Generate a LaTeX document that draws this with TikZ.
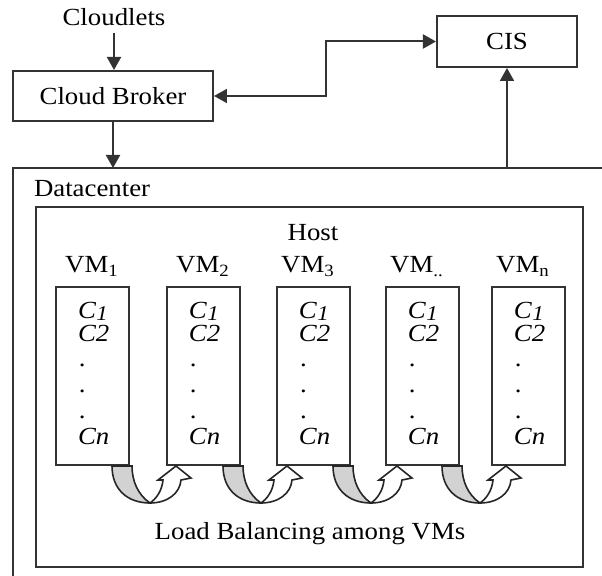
\documentclass[tikz,border=0pt]{standalone}
\usepackage{fontspec}
\setmainfont{Liberation Serif}[FakeStretch=1.09]
\usetikzlibrary{arrows.meta,calc}
\begin{document}
\begin{tikzpicture}[x=0.5pt,y=-0.5pt, line width=1pt,
  lncol/.style={draw=black!80},
  box/.style={lncol, rectangle, inner sep=0pt},
  txt/.style={inner sep=0pt, font=\fontsize{12.3}{14}\selectfont},
  arr/.style={lncol, -{Triangle[length=6.5pt,width=7pt]}},
  dblarr/.style={lncol, {Triangle[length=6.5pt,width=7pt]}-{Triangle[length=6.5pt,width=7pt]}},
  lbarrow/.pic={
    \filldraw[fill=gray!35, draw=black!85, line width=0.8pt]
      (-38,-37) .. controls (-38,-14) and (-23,0) .. (0,0)
      .. controls (-12,-8) and (-18,-22) .. (-18,-37) -- cycle;
    \filldraw[fill=white, draw=black!85, line width=0.8pt, line join=miter]
      (0,0) .. controls (18,0) and (30,-10) .. (31,-23) -- (41,-25) -- (26,-37)
      -- (8,-23) -- (13,-23) .. controls (12,-12) and (6,-4) .. (0,0) -- cycle;
  }]
\useasboundingbox (0,0) rectangle (602,576);

% top part
\node[txt] (cloudlets) at (114,17) {Cloudlets};
\node[box, txt, minimum width=100pt, minimum height=25pt] (cb) at (113,96) {Cloud Broker};
\node[box, txt, minimum width=70pt, minimum height=25.5pt] (cis) at (507,41.5) {CIS};

% datacenter
\coordinate (dcnw) at (13,168);
\draw[lncol] (620,168) -- (dcnw) -- (13,600);
\node[txt, anchor=base west] (dclabel) at (33,197) {Datacenter};

% connectors
\draw[arr] ([yshift=-3pt]cloudlets.south) -- (cloudlets.south |- cb.north);
\draw[arr] (cb.south) -- (cb.south |- dcnw);
\draw[arr] (cis.south |- dcnw) -- (cis.south);
\draw[dblarr] (cb.east) -- ++(112,0) |- (cis.west);

% host
\node[box, minimum width=273.5pt, minimum height=180pt] (host) at (309.5,387) {};
\node[txt, anchor=base] (hostlabel) at (313,241) {Host};

\foreach \i/\cx/\lx/\s in {1/92.5/92/1, 2/203.5/203/2, 3/313.5/308/3, 4/422.5/417/{..}, 5/528.5/523/n} {
  \node[box, minimum width=36.5pt, minimum height=89pt] (vm\i) at (\cx,376) {};
  \node[txt, anchor=base] (vml\i) at (\lx,273) {VM\textsubscript{\s}};
  \node[txt, anchor=base west] (ca\i) at (\cx-15.5,319)
    {\textit{C\kern0.3pt\raisebox{-0.9pt}{\fontsize{10.5}{10.5}\selectfont 1}}};
  \node[txt, anchor=base west] (cb\i) at (\cx-15.5,342) {\textit{C2}};
  \node[txt, anchor=base west] (da\i) at (\cx-14.5,367) {.};
  \node[txt, anchor=base west] (db\i) at (\cx-14.5,393) {.};
  \node[txt, anchor=base west] (dc\i) at (\cx-14.5,419) {.};
  \node[txt, anchor=base west] (cn\i) at (\cx-15.5,445) {\textit{Cn}};
}

\foreach \i in {1,2,3,4} {
  \pic at ($(vm\i.south east)+(20,37)$) {lbarrow};
}

\node[txt, anchor=base] (lb) at (310,540) {Load Balancing among VMs};
\end{tikzpicture}
\end{document}
